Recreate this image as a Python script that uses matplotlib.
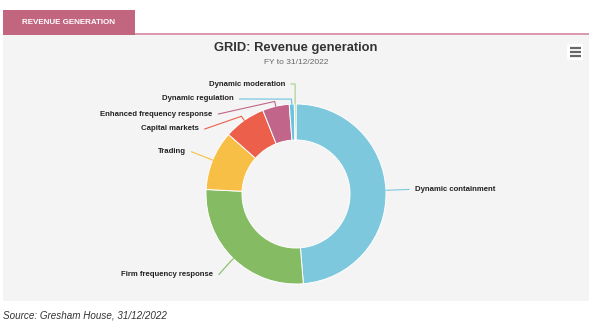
import math

import matplotlib.pyplot as plt
from matplotlib.patches import Wedge, Rectangle, FancyBboxPatch

# data (share of revenue, %)
categories = ["Dynamic containment", "Firm frequency response", "Trading",
              "Capital markets", "Enhanced frequency response",
              "Dynamic regulation", "Dynamic moderation"]
values = [48.7, 27.1, 10.7, 7.5, 4.8, 0.9, 0.3]
colors = ["#7ec8dd", "#85bb63", "#f8bf46", "#ec5f4b", "#c1668a",
          "#6cc3e0", "#a6cf83"]

title = "GRID: Revenue generation"
subtitle = "FY to 31/12/2022"
tab_text = "REVENUE GENERATION"
source = "Source: Gresham House, 31/12/2022"

# layout in pixels (figure is 600x330)
W, H = 600, 330
cx, cy = 296, 194
r_out = 90
r_in = 54
label_ry = 112   # radius used for natural label height
label_rx = 108   # radius used for label x given its height
label_pad = 5
label_gap = 15
label_top = 84

plt.rcParams['font.family'] = ['Liberation Sans', 'DejaVu Sans']

fig = plt.figure(figsize=(6, 3.3), dpi=100)
ax = fig.add_axes([0, 0, 1, 1])
ax.set_xlim(0, W)
ax.set_ylim(H, 0)
ax.axis('off')

# panel, tab and rule
ax.add_patch(Rectangle((3, 35), 586, 266, facecolor="#f4f4f4", edgecolor="none"))
ax.add_patch(Rectangle((3, 10), 132, 25, facecolor="#c2667f", edgecolor="none"))
ax.plot([135, 589], [34.2, 34.2], color="#d98da6", lw=1.3, solid_capstyle='butt')
ax.text(69, 22.5, tab_text, color="white", fontsize=5.8, fontweight='bold',
        ha='center', va='center')

# menu button
ax.add_patch(FancyBboxPatch((567, 44), 16, 16, boxstyle="round,pad=0,rounding_size=2",
                            facecolor="white", edgecolor="none"))
for by in (47.5, 51.5, 55.5):
    ax.plot([569.5, 580.5], [by, by], color="#666666", lw=1.6, solid_capstyle='butt')

ax.text(cx, 47.5, title, fontsize=9.3, fontweight='bold', color="#333333",
        ha='center', va='center')
ax.text(cx, 62.5, subtitle, fontsize=6.0, color="#666666", ha='center', va='center')

# donut (clockwise from top; y axis inverted so data angles increase clockwise)
total = sum(values)
cum = 0.0
mids = []
for v, c in zip(values, colors):
    t1 = -90 + cum / total * 360
    t2 = -90 + (cum + v) / total * 360
    ax.add_patch(Wedge((cx, cy), r_out, t1, t2, width=r_out - r_in,
                       facecolor=c, edgecolor="white", lw=0.7))
    mids.append(math.radians((t1 + t2) / 2))
    cum += v

# data labels with connectors
left = [i for i in range(len(values)) if math.cos(mids[i]) < 0]
right = [i for i in range(len(values)) if math.cos(mids[i]) >= 0]


def place(idx, sign):
    # top to bottom
    idx = sorted(idx, key=lambda i: cy + label_ry * math.sin(mids[i]) if sign > 0
                 else -((math.degrees(mids[i]) + 90) % 360))
    prev = label_top - label_gap
    for i in idx:
        a = mids[i]
        ly = max(cy + label_ry * math.sin(a), prev + label_gap)
        prev = ly
        s = max(-1.0, min(1.0, (ly - cy) / label_rx))
        lx = cx + sign * (math.cos(math.asin(s)) * label_rx + label_pad)
        px, py = cx + r_out * math.cos(a), cy + r_out * math.sin(a)
        bx, by = cx + (r_out + 5) * math.cos(a), cy + (r_out + 5) * math.sin(a)
        if ly < by - 8:
            by = ly
        ax.plot([lx, bx, px], [ly, by, py], color=colors[i], lw=0.8)
        ax.text(lx + sign * 6, ly, categories[i], fontsize=5.6, fontweight='bold',
                color="#222222", ha='left' if sign > 0 else 'right', va='center')


place(left, -1)
place(right, 1)

ax.text(3, 316, source, fontsize=7.1, style='italic', color="#333333",
        ha='left', va='center')

fig.savefig("out.png", dpi=100)
